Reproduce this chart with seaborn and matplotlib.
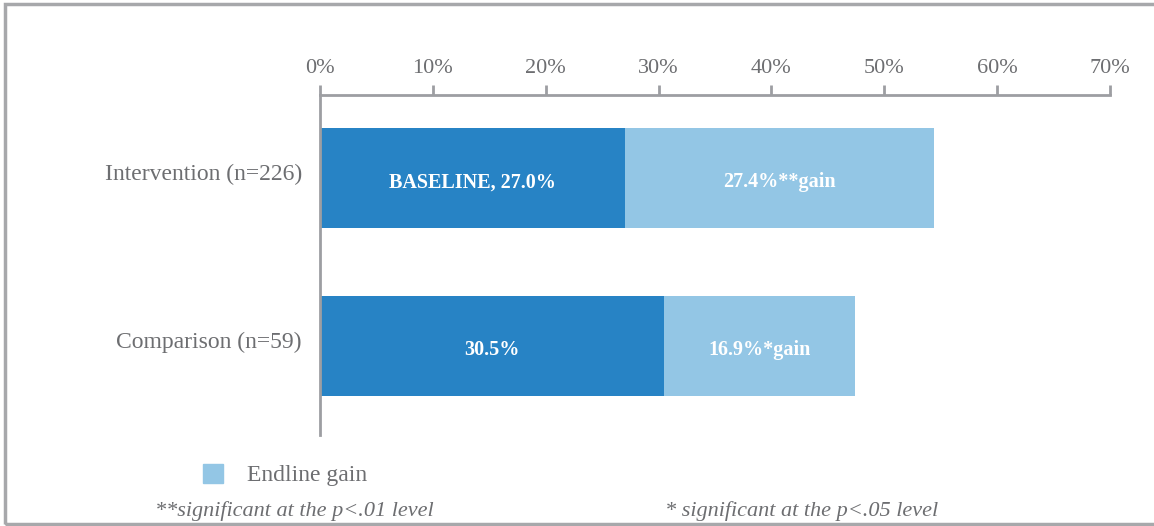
import pandas as pd
import matplotlib.pyplot as plt
import matplotlib.transforms as mtransforms
import seaborn as sns
from matplotlib.patches import Rectangle

# values (percent)
groups = ['Intervention (n=226)', 'Comparison (n=59)']
baseline = [27.0, 30.5]
gain = [27.4, 16.9]
baseline_labels = ['BASELINE, 27.0%', '30.5%']
gain_labels = ['27.4%**gain', '16.9%*gain']
ticks = [0, 10, 20, 30, 40, 50, 60, 70]

df = pd.DataFrame({'group': groups, 'baseline': baseline, 'gain': gain})
df['total'] = df['baseline'] + df['gain']

dark_blue = '#2783c5'
light_blue = '#93c6e5'
grey_text = '#6d6e71'
grey_line = '#9d9ea2'

sns.set_style('white')
plt.rcParams['font.family'] = ['Liberation Serif', 'DejaVu Serif']

fig = plt.figure(figsize=(11.54, 5.26), dpi=100)
ax = fig.add_axes([320 / 1154, 1 - 435 / 526, 790 / 1154, 340 / 526])

# stacked: total first (gain colour), baseline drawn on top
sns.barplot(data=df, x='total', y='group', color=light_blue, width=0.595,
            orient='h', ax=ax, saturation=1, linewidth=0)
sns.barplot(data=df, x='baseline', y='group', color=dark_blue, width=0.595,
            orient='h', ax=ax, saturation=1, linewidth=0)

for i, row in df.iterrows():
    ax.text(row['baseline'] / 2, i + 0.025, baseline_labels[i], color='white',
            fontsize=14.5, fontweight='bold', ha='center', va='center')
    ax.text(row['baseline'] + row['gain'] / 2, i + 0.025, gain_labels[i],
            color='white', fontsize=14.5, fontweight='bold',
            ha='center', va='center')

ax.set_xlim(0, 70)
ax.set_ylim(1.53, -0.494)
ax.xaxis.tick_top()
ax.set_xticks(ticks)
ax.set_xticklabels([f'{t}%' for t in ticks])
ax.set_xlabel('')
ax.set_ylabel('')
ax.tick_params(axis='x', colors=grey_line, length=7, width=2, pad=5,
               labelcolor=grey_text, labelsize=16)
ax.tick_params(axis='y', length=0, pad=13, labelcolor=grey_text, labelsize=17)

# category labels sit a little above the bar centre in the original
shift = mtransforms.ScaledTranslation(0, 6 / 100, fig.dpi_scale_trans)
for lbl in ax.get_yticklabels():
    lbl.set_transform(lbl.get_transform() + shift)

for side in ['right', 'bottom']:
    ax.spines[side].set_visible(False)
for side in ['top', 'left']:
    ax.spines[side].set_color(grey_line)
    ax.spines[side].set_linewidth(2)

# legend entry for the gain only
handle = Rectangle((0, 0), 1, 1, color=light_blue)
fig.legend([handle], ['Endline gain'], loc='center left',
           bbox_to_anchor=(203 / 1154, 1 - 475 / 526), frameon=False,
           fontsize=17, labelcolor=grey_text, handlelength=0.85,
           handleheight=0.85, handletextpad=1.0, borderpad=0,
           borderaxespad=0)

fig.text(155 / 1154, 1 - 511 / 526, '**significant at the p<.01 level',
         fontsize=16, style='italic', color=grey_text, va='center')
fig.text(665 / 1154, 1 - 511 / 526, '* significant at the p<.05 level',
         fontsize=16, style='italic', color=grey_text, va='center')

# outer frame
fig.patches.append(Rectangle((5 / 1154, 2 / 526), 1.1, 1 - 6 / 526,
                             transform=fig.transFigure, fill=False,
                             edgecolor='#a7a8ab', linewidth=2.5))

fig.savefig('out.png', dpi=100)
